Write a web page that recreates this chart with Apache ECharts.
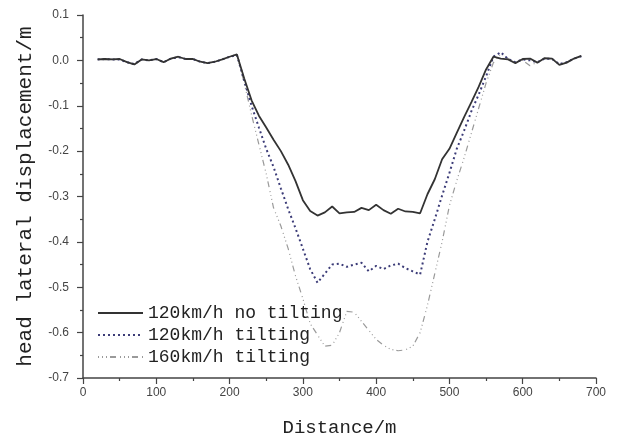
<!DOCTYPE html>
<html>
<head>
<meta charset="utf-8">
<script src="https://cdn.jsdelivr.net/npm/echarts@6/dist/echarts.min.js"></script>
<style>
  html, body { margin: 0; padding: 0; background: #fff; }
  #chart { width: 621px; height: 442px; }
</style>
</head>
<body>
<div id="chart"></div>
<script>
// Distance along the route (m), sampled every 10 m
const distance = [
  20, 30, 40, 50, 60, 70, 80, 90, 100, 110, 120, 130, 140, 150, 160, 170, 180, 190, 200, 210,
  220, 230, 240, 250, 260, 270, 280, 290, 300, 310, 320, 330, 340, 350, 360, 370, 380, 390, 400, 410,
  420, 430, 440, 450, 460, 470, 480, 490, 500, 510, 520, 530, 540, 550, 560, 570, 580, 590, 600, 610,
  620, 630, 640, 650, 660, 670, 680
];

// Head lateral displacement (m)
const noTilting120 = [
  0.002, 0.003, 0.002, 0.003, -0.004, -0.009, 0.002, 0.000, 0.003, -0.004, 0.004, 0.008, 0.003, 0.003, -0.003, -0.006, -0.003, 0.002, 0.008, 0.013,
  -0.040, -0.088, -0.122, -0.148, -0.175, -0.200, -0.230, -0.266, -0.308, -0.332, -0.342, -0.335, -0.322, -0.337, -0.335, -0.334, -0.325, -0.330, -0.318, -0.330,
  -0.338, -0.327, -0.333, -0.334, -0.337, -0.295, -0.262, -0.218, -0.195, -0.160, -0.125, -0.092, -0.058, -0.020, 0.008, 0.004, 0.002, -0.006, 0.003, 0.004,
  -0.005, 0.005, 0.004, -0.010, -0.005, 0.004, 0.010
];

const tilting120 = [
  0.002, 0.003, 0.002, 0.002, -0.004, -0.008, 0.002, 0.000, 0.003, -0.004, 0.004, 0.007, 0.003, 0.003, -0.003, -0.006, -0.003, 0.002, 0.008, 0.012,
  -0.045, -0.100, -0.148, -0.195, -0.235, -0.282, -0.328, -0.370, -0.415, -0.460, -0.490, -0.470, -0.450, -0.448, -0.455, -0.450, -0.446, -0.465, -0.453, -0.460,
  -0.452, -0.448, -0.458, -0.465, -0.472, -0.400, -0.350, -0.298, -0.248, -0.195, -0.155, -0.112, -0.075, -0.035, 0.008, 0.018, 0.003, -0.004, 0.002, 0.000,
  -0.004, 0.004, 0.003, -0.008, -0.004, 0.004, 0.009
];

const tilting160 = [
  0.002, 0.003, 0.002, 0.003, -0.004, -0.009, 0.002, 0.000, 0.003, -0.004, 0.004, 0.008, 0.003, 0.003, -0.003, -0.006, -0.003, 0.002, 0.008, 0.012,
  -0.050, -0.120, -0.185, -0.250, -0.325, -0.365, -0.415, -0.475, -0.525, -0.580, -0.605, -0.630, -0.628, -0.600, -0.553, -0.555, -0.575, -0.595, -0.615, -0.628,
  -0.637, -0.640, -0.638, -0.630, -0.600, -0.540, -0.470, -0.400, -0.320, -0.265, -0.215, -0.160, -0.105, -0.050, -0.005, 0.015, 0.004, -0.003, 0.000, -0.012,
  -0.004, 0.004, 0.003, -0.008, -0.004, 0.004, 0.008
];

const seriesNames = ['120km/h no tilting', '120km/h tilting', '160km/h tilting'];

const pairs = (vals) => distance.map((d, i) => [d, vals[i]]);

const MONO = '"Liberation Mono", "DejaVu Sans Mono", monospace';
const AXIS_COLOR = '#444';

const chart = echarts.init(document.getElementById('chart'), null, { renderer: 'canvas' });

chart.setOption({
  backgroundColor: '#fff',
  animation: false,
  grid: { left: 83, right: 25, top: 15, bottom: 59, containLabel: false },
  legend: {
    orient: 'vertical',
    left: 92,
    top: 299,
    itemWidth: 45,
    itemHeight: 12,
    itemGap: 4,
    itemStyle: { opacity: 0 },
    textStyle: { fontFamily: MONO, fontSize: 18, color: '#222' },
    data: seriesNames
  },
  xAxis: {
    type: 'value',
    min: 0,
    max: 700,
    interval: 100,
    name: 'Distance/m',
    nameLocation: 'middle',
    nameGap: 40,
    nameTextStyle: { fontFamily: MONO, fontSize: 19, color: '#222' },
    axisLine: { show: true, onZero: false, lineStyle: { color: AXIS_COLOR, width: 1.5 } },
    axisTick: { show: true, length: 6, lineStyle: { color: AXIS_COLOR, width: 1.2 } },
    minorTick: { show: true, splitNumber: 2, length: 3, lineStyle: { color: AXIS_COLOR, width: 1.2 } },
    axisLabel: { fontFamily: 'Arial, "Liberation Sans", sans-serif', fontSize: 12, color: '#444', margin: 9 },
    splitLine: { show: false }
  },
  yAxis: {
    type: 'value',
    min: -0.7,
    max: 0.1,
    interval: 0.1,
    name: 'head lateral displacement/m',
    nameLocation: 'middle',
    nameGap: 47,
    nameTextStyle: { fontFamily: MONO, fontSize: 21, color: '#222' },
    axisLine: { show: true, onZero: false, lineStyle: { color: AXIS_COLOR, width: 1.5 } },
    axisTick: { show: true, length: 6, lineStyle: { color: AXIS_COLOR, width: 1.2 } },
    minorTick: { show: true, splitNumber: 2, length: 3, lineStyle: { color: AXIS_COLOR, width: 1.2 } },
    axisLabel: {
      fontFamily: 'Arial, "Liberation Sans", sans-serif',
      fontSize: 12,
      color: '#444',
      margin: 14,
      formatter: (v) => v.toFixed(1)
    },
    splitLine: { show: false }
  },
  series: [
    {
      name: seriesNames[0],
      type: 'line',
      data: pairs(noTilting120),
      showSymbol: false,
      symbol: 'none',
      z: 3,
      lineStyle: { color: '#333', width: 1.8, type: 'solid' },
      itemStyle: { color: '#333' }
    },
    {
      name: seriesNames[1],
      type: 'line',
      data: pairs(tilting120),
      showSymbol: false,
      symbol: 'none',
      z: 2,
      lineStyle: { color: '#3c3c78', width: 2, type: [2, 3] },
      itemStyle: { color: '#3c3c78' }
    },
    {
      name: seriesNames[2],
      type: 'line',
      data: pairs(tilting160),
      showSymbol: false,
      symbol: 'none',
      z: 1,
      lineStyle: { color: '#9a9a9a', width: 1.2, type: [1, 3, 1, 3, 1, 3, 6, 4] },
      itemStyle: { color: '#9a9a9a' }
    }
  ]
});
</script>
</body>
</html>
